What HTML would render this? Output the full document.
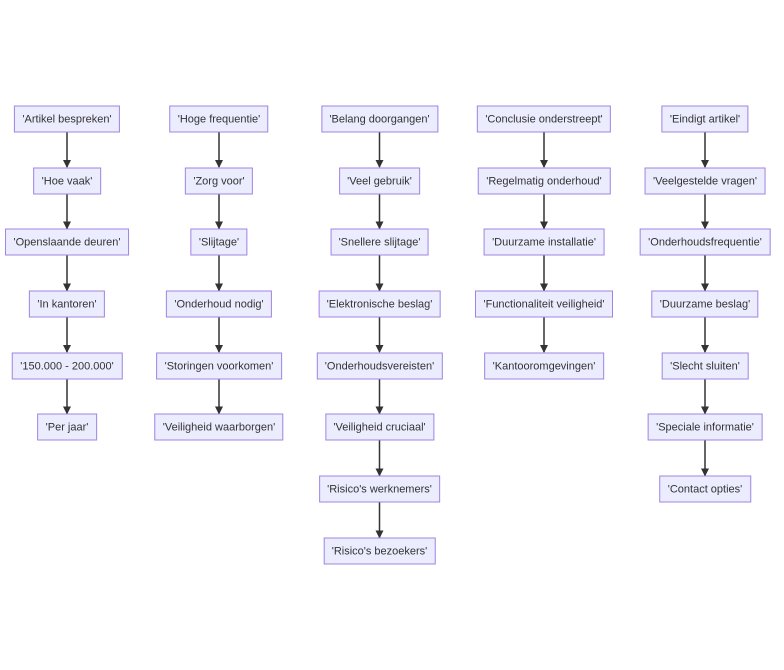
<!DOCTYPE html>
<html><head><style>
body{margin:0;width:784px;height:670px;background:#fff;position:relative;overflow:hidden;font-family:"Liberation Sans",Arial,sans-serif}
.n{position:absolute;transform:translate(-50%,-50%);height:25px;line-height:27px;padding:0 7.5px;background:#ECECFF;border:1px solid #9F85E3;font-size:11px;color:#333;white-space:nowrap;box-sizing:content-box}
svg{position:absolute;left:0;top:0}
</style></head><body>
<svg width="784" height="670" id="s"><defs><marker id="a" markerWidth="8" markerHeight="8" refX="7" refY="4" orient="auto" markerUnits="userSpaceOnUse"><path d="M0,0L8,4L0,8z" fill="#333"/></marker></defs></svg>
<div id="c"></div>
<script>
var cols=[[67,["'Artikel bespreken'","'Hoe vaak'","'Openslaande deuren'","'In kantoren'","'150.000 - 200.000'","'Per jaar'"]],
[219,["'Hoge frequentie'","'Zorg voor'","'Slijtage'","'Onderhoud nodig'","'Storingen voorkomen'","'Veiligheid waarborgen'"]],
[379.5,["'Belang doorgangen'","'Veel gebruik'","'Snellere slijtage'","'Elektronische beslag'","'Onderhoudsvereisten'","'Veiligheid cruciaal'","'Risico's werknemers'","'Risico's bezoekers'"]],
[544,["'Conclusie onderstreept'","'Regelmatig onderhoud'","'Duurzame installatie'","'Functionaliteit veiligheid'","'Kantooromgevingen'"]],
[705,["'Eindigt artikel'","'Veelgestelde vragen'","'Onderhoudsfrequentie'","'Duurzame beslag'","'Slecht sluiten'","'Speciale informatie'","'Contact opties'"]]];
var ys=[119,180.5,242,304,365.5,427,489,551];
var h="",l="";
cols.forEach(function(c){c[1].forEach(function(t,i){h+='<div class="n" style="left:'+c[0]+'px;top:'+ys[i]+'px">'+t+'</div>';
if(i>0)l+='<line x1="'+c[0]+'" y1="'+(ys[i-1]+13.5)+'" x2="'+c[0]+'" y2="'+(ys[i]-13.5)+'" stroke="#333" stroke-width="1.5" marker-end="url(#a)"/>';});});
document.getElementById('c').innerHTML=h;
document.getElementById('s').insertAdjacentHTML('beforeend',l);
</script>
</body></html>
